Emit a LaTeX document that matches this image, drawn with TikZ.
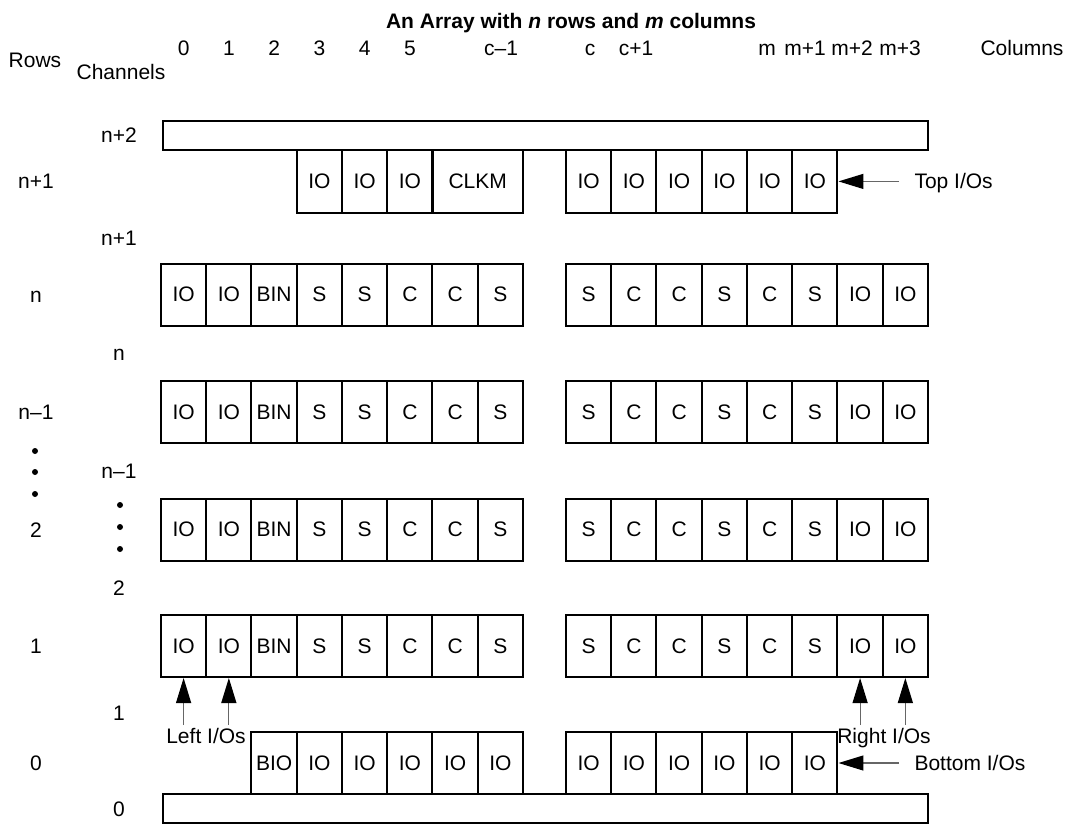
\documentclass[tikz,border=0pt]{standalone}
\usepackage{fontspec}
\setmainfont{Liberation Sans}
\usetikzlibrary{arrows.meta}

\begin{document}
\begin{tikzpicture}[x=1pt, y=-1pt, font=\fontsize{21}{25}\selectfont,
    lbl/.style={anchor=base},
    cell/.style={draw, line width=2pt, minimum width=45.25pt, minimum height=62pt, inner sep=0pt},
    bar/.style={draw, line width=2pt, minimum width=764.5pt, minimum height=29.3pt, inner sep=0pt},
    ioarrow/.style={line width=1.2pt, black!60, -{Triangle[length=25pt, width=15pt, color=black]}}]
    \useasboundingbox (0,0) rectangle (1065,823);
    \node [lbl] (title) at (571,28.5) {\textbf{An Array with \textit{n} rows and \textit{m} columns}};
    \node [lbl] (rows) at (35,67.5) {Rows};
    \node [lbl] (channels) at (121,79.5) {Channels};
    \foreach \lbl [count=\i from 0] in {0,1,2,3,4,5}
      \node [lbl] (colL\i) at (183.6+45.25*\i,55) {\lbl};
    \node [lbl] (colLc) at (501,55) {c–1};
    \node [lbl] (colRc) at (590,55) {c};
    \node [lbl] (colRcc) at (636,55) {c+1};
    \node [lbl] (colRm) at (767,55) {m};
    \node [lbl] (colRm1) at (805,55) {m+1};
    \node [lbl] (colRm2) at (852,55) {m+2};
    \node [lbl] (colRm3) at (900,55) {m+3};
    \node [lbl] (columns) at (1022,55) {Columns};
    \foreach \y/\lbl [count=\i] in {188.9/n+1, 302/n, 419.5/n–1, 537/2, 653.5/1, 770.5/0}
      \node [lbl] (rowlbl\i) at (36,\y) {\lbl};
    \foreach \y/\lbl [count=\i] in {142.9/n+2, 245.5/n+1, 360.5/n, 478.5/n–1, 595.5/2, 720.5/1, 816.5/0}
      \node [lbl] (chlbl\i) at (119,\y) {\lbl};
    \foreach \y in {451,472,494}
      \fill (35,\y) circle (3pt);
    \foreach \y in {505,527,549}
      \fill (120,\y) circle (3pt);

    \node [bar] (topbar) at (545.25,135.35) {};
    \foreach \i in {3,4,5}
      \node [cell, minimum height=62.7pt] (tl\i) at (183.6+45.25*\i,181.4) {IO};
    \node [cell, minimum width=90.5pt, minimum height=62.7pt] (clkm) at (477.75,181.4) {CLKM};
    \foreach \i in {0,...,5}
      \node [cell, minimum height=62.7pt] (tr\i) at (588.6+45.25*\i,181.4) {IO};

    \foreach \y/\rn in {294.5/rn, 412/rnm, 529.5/rtwo, 646/rone} {
      \foreach \lbl [count=\i from 0] in {IO,IO,BIN,S,S,C,C,S}
        \node [cell] (\rn-l\i) at (183.6+45.25*\i,\y) {\lbl};
      \foreach \lbl [count=\i from 0] in {S,C,C,S,C,S,IO,IO}
        \node [cell] (\rn-r\i) at (588.6+45.25*\i,\y) {\lbl};
    }

    \foreach \lbl [count=\i from 2] in {BIO,IO,IO,IO,IO,IO}
      \node [cell] (bl\i) at (183.6+45.25*\i,763) {\lbl};
    \foreach \i in {0,...,5}
      \node [cell] (br\i) at (588.6+45.25*\i,763) {IO};
    \node [bar] (botbar) at (545.25,808.65) {};

    \node [anchor=base west] (topio) at (911,188.9) {Top I/Os};
    \node [anchor=base west] (botio) at (911,770.5) {Bottom I/Os};
    \node [lbl] (leftio) at (206,743.5) {Left I/Os};
    \node [lbl] (rightio) at (884,743.5) {Right I/Os};
    \coordinate (topfrom) at (899,181.4);
    \coordinate (botfrom) at (899,763);
    \coordinate (left0) at (183.6,725);
    \coordinate (left1) at (228.85,725);
    \coordinate (right6) at (860.1,725);
    \coordinate (right7) at (905.35,725);
    \draw [ioarrow] (topfrom) -- (tr5.east);
    \draw [ioarrow] (botfrom) -- (br5.east);
    \draw [ioarrow] (left0) -- (rone-l0.south);
    \draw [ioarrow] (left1) -- (rone-l1.south);
    \draw [ioarrow] (right6) -- (rone-r6.south);
    \draw [ioarrow] (right7) -- (rone-r7.south);
\end{tikzpicture}
\end{document}
